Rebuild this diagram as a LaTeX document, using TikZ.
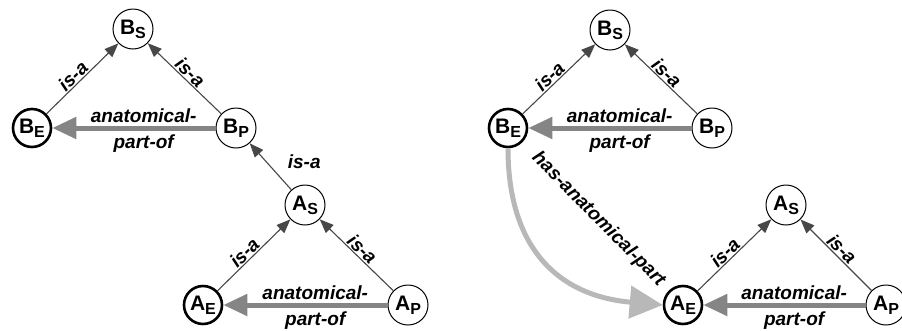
\documentclass[tikz,border=0pt]{standalone}
\usepackage{fontspec}
\setmainfont{Liberation Sans}
\usetikzlibrary{arrows.meta}
\definecolor{isacol}{HTML}{474747}
\definecolor{apcol}{HTML}{858585}
\definecolor{hapcol}{HTML}{B8B8B8}
\newcommand{\entlabel}[2]{\fontsize{21}{21}\selectfont\bfseries #1\raisebox{-4pt}{\fontsize{16}{16}\selectfont #2}}
\begin{document}
\begin{tikzpicture}[x=1pt,y=-1pt,
  ent/.style={circle, draw, line width=1pt, minimum size=40pt, inner sep=0pt, fill=white},
  entthick/.style={ent, line width=2.6pt, minimum size=38pt},
  isa/.style={draw=isacol, line width=1.1pt, -{Triangle[length=14pt,width=11pt]}},
  apo/.style={draw=apcol, line width=5pt, -{Triangle[length=24pt,width=21pt]}},
  hap/.style={draw=hapcol, line width=5pt, -{Triangle[length=33pt,width=32pt]}},
  lbl/.style={font=\fontsize{19}{19}\selectfont\bfseries\itshape, inner sep=1pt},
  lblup/.style={lbl, inner sep=0pt, above=3pt},
  lbldown/.style={lbl, inner sep=0pt, below=4pt},
]
\useasboundingbox (0,0) rectangle (902,330);

% left diagram
\node[ent]      (BS1) at (133,29)  {\entlabel{B}{S}};
\node[entthick] (BE1) at (32,128)  {\entlabel{B}{E}};
\node[ent]      (BP1) at (236,128) {\entlabel{B}{P}};
\node[ent]      (AS1) at (305,205) {\entlabel{A}{S}};
\node[entthick] (AE1) at (203,305) {\entlabel{A}{E}};
\node[ent]      (AP1) at (408,305) {\entlabel{A}{P}};

\draw[isa] (BE1) -- node[lbl, sloped, above, pos=0.45]{is-a} (BS1);
\draw[isa] (BP1) -- node[lbl, sloped, above]{is-a} (BS1);
\draw[isa] (AS1) -- node[lbl, pos=0.6, right=20pt]{is-a} (BP1);
\draw[isa] (AE1) -- node[lbl, sloped, above, pos=0.45]{is-a} (AS1);
\draw[isa] (AP1) -- node[lbl, sloped, above]{is-a} (AS1);
\draw[apo] (BP1) -- node[lblup, pos=0.44]{anatomical-} node[lbldown, pos=0.44]{part-of} (BE1);
\draw[apo] (AP1) -- node[lblup, pos=0.44]{anatomical-} node[lbldown, pos=0.44]{part-of} (AE1);

% right diagram
\node[ent]      (BS2) at (610,30)  {\entlabel{B}{S}};
\node[entthick] (BE2) at (508,128) {\entlabel{B}{E}};
\node[ent]      (BP2) at (712,128) {\entlabel{B}{P}};
\node[ent]      (AS2) at (786,205) {\entlabel{A}{S}};
\node[entthick] (AE2) at (683,305) {\entlabel{A}{E}};
\node[ent]      (AP2) at (886,305) {\entlabel{A}{P}};

\draw[isa] (BE2) -- node[lbl, sloped, above, pos=0.45]{is-a} (BS2);
\draw[isa] (BP2) -- node[lbl, sloped, above]{is-a} (BS2);
\draw[isa] (AE2) -- node[lbl, sloped, above, pos=0.45]{is-a} (AS2);
\draw[isa] (AP2) -- node[lbl, sloped, above]{is-a} (AS2);
\draw[apo] (BP2) -- node[lblup, pos=0.44]{anatomical-} node[lbldown, pos=0.44]{part-of} (BE2);
\draw[apo] (AP2) -- node[lblup, pos=0.44]{anatomical-} node[lbldown, pos=0.44]{part-of} (AE2);

\draw[hap] (BE2.south) to[out=-90, in=175, out distance=105pt, in distance=100pt] (AE2.west);
\path (BE2) -- node[lbl, sloped, pos=0.52]{has-anatomical-part} (AE2);
\end{tikzpicture}
\end{document}
